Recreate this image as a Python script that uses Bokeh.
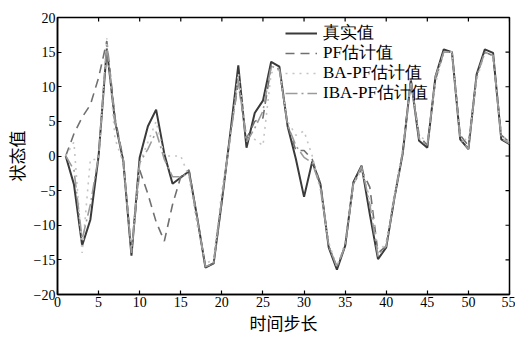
import math
from bokeh.plotting import figure
from bokeh.models import Range1d, FixedTicker, Legend, LegendItem
from bokeh.embed import file_html
from bokeh.resources import INLINE

steps = list(range(1, 56))
true_vals = [0, -4.1, -12.9, -9.2, 0, 15.5, 5, -0.7, -14.4, -0.2,
             4.3, 6.7, 0.3, -4, -3.1, -2.2, -8.9, -16.1, -15.5, -6.5,
             3, 13.1, 1.2, 6.2, 8, 13.6, 12.9, 4.3, -0.4, -5.9,
             -0.8, -4.1, -13.2, -16.4, -13, -3.8, -1.4, -8.4, -14.9, -13.2,
             -6, 0.3, 11, 2.2, 1.2, 11.5, 15.4, 15, 2.4, 1,
             11.8, 15.4, 14.9, 2.4, 1.7]
pf_vals = [0, 3.2, 5.6, 7.4, 11.3, 16.6, 5.5, -0.5, -14, -2,
           -5.5, -9.5, -12.3, -7, -3, -2, -9, -16, -15.5, -6.5,
           3, 10.5, 2.5, 5, 5.5, 13, 12.5, 4.5, 0.8, 0.8,
           -0.5, -4, -13, -16, -13, -4, -2, -4.5, -14, -13,
           -6, 0.5, 11, 3, 1.5, 11, 15, 15, 3, 1.5,
           11.5, 15, 14.5, 3, 2]
ba_vals = [0, 2, -14, -0.5, -0.5, 17, 2.5, -1, -13.5, -1,
           2, 5, 0, 0, 0, -3, -10, -15.5, -15, -5,
           2, 12, 3, 2.4, 1.5, 12, 12.5, 5, 3, 3.6,
           0, -5, -12.5, -16, -12.5, -4, -2, -6, -14, -12.5,
           -5.5, 1, 10.5, 3, 2, 10.5, 15, 15, 3, 2,
           11, 15, 14.5, 3, 2]
iba_vals = [0, -2, -12, -7, 0, 16, 5, -0.5, -14, -1,
            1, 3.5, -0.5, -3, -3, -2.5, -9, -16, -15.5, -6,
            2.5, 11, 2, 4, 6.5, 13, 12.5, 4.5, 1.5, -0.2,
            -1, -4.5, -13, -16, -13, -4, -1.5, -7, -14.5, -13,
            -6, 0.5, 11, 2.5, 1.5, 11.5, 15, 15, 2.5, 1,
            11.5, 15, 14.5, 2.5, 1.8]
x_ticks = list(range(0, 60, 5))
y_ticks = list(range(-20, 25, 5))
labels = ["真实值", "PF估计值", "BA-PF估计值", "IBA-PF估计值"]

X_MIN, X_MAX = 0, 55
Y_MIN, Y_MAX = -20, 20

p = figure(width=515, height=340, output_backend="svg", toolbar_location=None,
           x_range=Range1d(X_MIN, X_MAX), y_range=Range1d(Y_MIN, Y_MAX),
           min_border_left=55, min_border_right=6, min_border_top=17,
           min_border_bottom=46, x_axis_label="时间步长", y_axis_label="状态值")
p.background_fill_color = "white"
p.border_fill_color = "white"
p.outline_line_color = "black"
p.outline_line_width = 1.5
p.grid.visible = False

for ax in (p.xaxis[0], p.yaxis[0]):
    ax.major_tick_in = 4
    ax.major_tick_out = 0
    ax.minor_tick_in = 0
    ax.minor_tick_out = 0
    ax.axis_line_color = "black"
    ax.axis_line_width = 1.5
    ax.major_tick_line_width = 1.2
    ax.major_label_text_font = "Liberation Serif"
    ax.major_label_text_font_size = "14px"
    ax.major_label_text_color = "black"
    ax.axis_label_text_font = "Noto Sans CJK SC"
    ax.axis_label_text_font_size = "17px"
    ax.axis_label_text_font_style = "normal"
    ax.axis_label_text_color = "black"
    ax.major_label_standoff = 2
p.xaxis[0].axis_label_standoff = 0
p.yaxis[0].axis_label_standoff = 2
p.xaxis[0].ticker = FixedTicker(ticks=x_ticks)
p.yaxis[0].ticker = FixedTicker(ticks=y_ticks)

# inward ticks on the top and right edges of the box
p.ray(x=x_ticks, y=[Y_MAX] * len(x_ticks), length=4, length_units="screen",
      angle=-math.pi / 2, line_color="black", line_width=1.2)
p.ray(x=[X_MAX] * len(y_ticks), y=y_ticks, length=4, length_units="screen",
      angle=math.pi, line_color="black", line_width=1.2)

r_true = p.line(steps, true_vals, line_color="#3a3a3a", line_width=2)
r_pf = p.line(steps, pf_vals, line_color="#707070", line_width=1.6, line_dash="9 6")
r_ba = p.line(steps, ba_vals, line_color="#c4c4c4", line_width=1.6, line_dash="2 5")
r_iba = p.line(steps, iba_vals, line_color="#9a9a9a", line_width=1.6, line_dash="12 4 2 4")

# one single-row legend per series so that the rows sit 20 px apart
renderers = [r_true, r_pf, r_ba, r_iba]
for i, (lab, rend) in enumerate(zip(labels, renderers)):
    lg = Legend(items=[LegendItem(label=lab, renderers=[rend])],
                location=(228, 250 - 20 * i), margin=0, padding=0, spacing=0,
                glyph_width=32, glyph_height=20, label_height=20,
                label_standoff=6, label_text_font="Liberation Serif",
                label_text_font_size="17px", label_text_color="black",
                background_fill_alpha=0, border_line_alpha=0)
    p.add_layout(lg)

open("out.html", "w").write(file_html(p, INLINE))
